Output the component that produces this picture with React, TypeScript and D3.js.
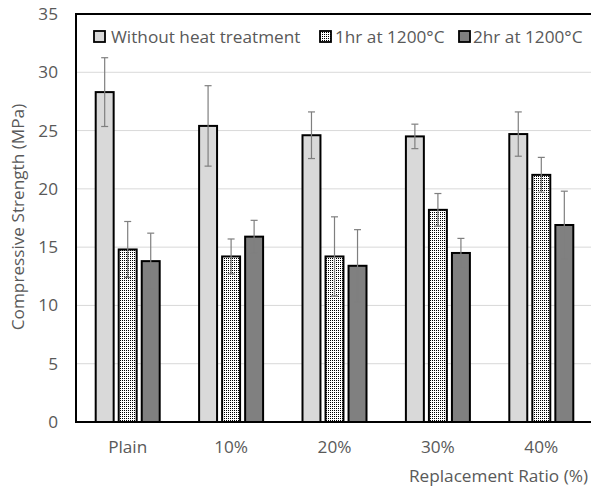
import React from "react";
import * as d3 from "d3";

const categories = ["Plain", "10%", "20%", "30%", "40%"];
const seriesNames = ["Without heat treatment", "1hr at 1200°C", "2hr at 1200°C"];
const withoutHeat = [28.3, 25.4, 24.6, 24.5, 24.7];
const withoutHeatErr = [2.95, 3.45, 2.0, 1.05, 1.9];
const oneHour = [14.8, 14.2, 14.2, 18.2, 21.2];
const oneHourErr = [2.4, 1.5, 3.4, 1.4, 1.5];
const twoHour = [13.8, 15.9, 13.4, 14.5, 16.9];
const twoHourErr = [2.4, 1.4, 3.1, 1.25, 2.9];
const yTicks = [0, 5, 10, 15, 20, 25, 30, 35];

const values = [withoutHeat, oneHour, twoHour];
const errors = [withoutHeatErr, oneHourErr, twoHourErr];
const fills = ["#d9d9d9", "url(#dots)", "#808080"];

const W = 591;
const H = 488;
const left = 76;
const right = 593;
const top = 14;
const bottom = 422;
const font = "'Open Sans', sans-serif";
const fs = 17.2;

export default function App() {
  const x = d3.scaleBand<string>().domain(categories).range([left, right]).padding(0);
  const y = d3.scaleLinear().domain([0, 35]).range([bottom, top]);
  const inner = d3
    .scaleBand<number>()
    .domain([0, 1, 2])
    .range([-32, 32])
    .paddingInner(0.22);

  const legendItems = [
    { sq: 94, tx: 111 },
    { sq: 320, tx: 335 },
    { sq: 459, tx: 473 },
  ];

  return (
    <svg
      width={W}
      height={H}
      style={{ position: "absolute", left: 0, top: 0, background: "#fff" }}
    >
      <defs>
        <pattern id="dots" width="2" height="2" patternUnits="userSpaceOnUse">
          <rect width="2" height="2" fill="#ffffff" />
          <rect width="1" height="1" fill="#000000" />
        </pattern>
      </defs>
      <rect x={0} y={0} width={W} height={H} fill="#fff" />
      {yTicks.slice(1, -1).map((t) => (
        <line
          key={t}
          x1={left}
          x2={right}
          y1={y(t)}
          y2={y(t)}
          stroke="#d9d9d9"
          strokeWidth={1}
        />
      ))}
      {yTicks.map((t) => (
        <text
          key={t}
          x={58}
          y={y(t)}
          dy="0.35em"
          textAnchor="end"
          fontFamily={font}
          fontSize={fs}
          fill="#595959"
        >
          {t}
        </text>
      ))}
      {categories.map((c, ci) => {
        const cx = (x(c) as number) + x.bandwidth() / 2;
        return (
          <g key={c}>
            {values.map((vals, si) => {
              const bx = cx + (inner(si) as number);
              const bw = inner.bandwidth();
              const v = vals[ci];
              const e = errors[si][ci];
              const ex = bx + bw / 2;
              return (
                <g key={si}>
                  <rect
                    x={bx}
                    y={y(v)}
                    width={bw}
                    height={bottom - y(v)}
                    fill={fills[si]}
                    stroke="#000"
                    strokeWidth={2}
                  />
                  <g stroke="#7f7f7f" strokeWidth={1.2}>
                    <line x1={ex} x2={ex} y1={y(v + e)} y2={y(v - e)} />
                    <line x1={ex - 3.5} x2={ex + 3.5} y1={y(v + e)} y2={y(v + e)} />
                    <line x1={ex - 3.5} x2={ex + 3.5} y1={y(v - e)} y2={y(v - e)} />
                  </g>
                </g>
              );
            })}
            <text
              x={cx}
              y={447}
              dy="0.35em"
              textAnchor="middle"
              fontFamily={font}
              fontSize={fs}
              fill="#595959"
            >
              {c}
            </text>
          </g>
        );
      })}
      <path
        d={`M${right},${top}H${left}V${bottom}H${right}`}
        fill="none"
        stroke="#000"
        strokeWidth={2}
      />
      {seriesNames.map((n, i) => (
        <g key={n}>
          <rect
            x={legendItems[i].sq}
            y={31}
            width={11}
            height={11}
            fill={fills[i]}
            stroke="#000"
            strokeWidth={1.8}
          />
          <text
            x={legendItems[i].tx}
            y={37}
            dy="0.35em"
            fontFamily={font}
            fontSize={fs}
            fill="#595959"
          >
            {n}
          </text>
        </g>
      ))}
      <text
        x={588}
        y={476}
        dy="0.35em"
        textAnchor="end"
        fontFamily={font}
        fontSize={fs}
        fill="#595959"
      >
        Replacement Ratio (%)
      </text>
      <text
        transform={`translate(18,${217}) rotate(-90)`}
        textAnchor="middle"
        dy="0.35em"
        fontFamily={font}
        fontSize={fs}
        fill="#595959"
      >
        Compressive Strength (MPa)
      </text>
    </svg>
  );
}
